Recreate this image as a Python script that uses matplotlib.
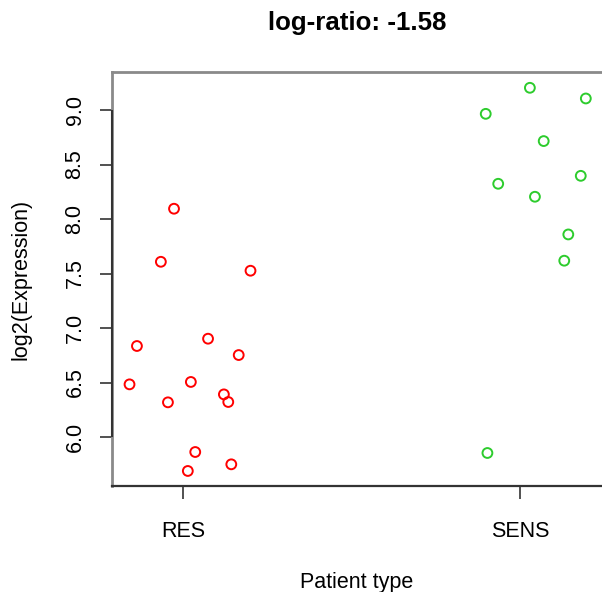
import numpy as np
import matplotlib.pyplot as plt

plt.rcParams['font.family'] = ['Liberation Sans', 'DejaVu Sans']

# values (x = category position incl. jitter)
res_x = [0.973, 0.934, 1.200, 0.863, 1.074, 1.165, 0.841, 1.023, 0.955,
         1.121, 1.134, 1.036, 1.143, 1.014]
res_y = [8.095, 7.608, 7.526, 6.835, 6.902, 6.752, 6.483, 6.505, 6.318,
         6.391, 6.321, 5.862, 5.749, 5.688]
sens_x = [2.029, 2.195, 1.898, 2.070, 2.180, 1.935, 2.044, 2.143, 2.131, 1.903]
sens_y = [9.205, 9.107, 8.966, 8.716, 8.397, 8.324, 8.205, 7.859, 7.618, 5.853]
groups = ["RES", "SENS"]
yticks = [6.0, 6.5, 7.0, 7.5, 8.0, 8.5, 9.0]
log_ratio = -1.58

fig = plt.figure(figsize=(6.02, 5.92), dpi=100)
ax = fig.add_axes([112 / 602, 106 / 592, 490 / 602, 414 / 592])

ax.scatter(res_x, res_y, s=50, facecolors='none', edgecolors='#ff0000', linewidths=1.4)
ax.scatter(sens_x, sens_y, s=50, facecolors='none', edgecolors='#2dcc2d', linewidths=1.4)

ax.set_xlim(0.789, 2.243)
ax.set_ylim(5.55, 9.35)

ax.set_xticks([1, 2])
ax.set_xticklabels(groups)
ax.set_yticks(yticks)
ax.set_yticklabels([f"{v:.1f}" for v in yticks], rotation=90, va='center')
ax.tick_params(axis='both', length=9, width=1.2, color='#333333', labelsize=15.5, pad=10)
ax.tick_params(axis='x', pad=16)

for side in ['top', 'left']:
    ax.spines[side].set_color('#8a8a8a')
    ax.spines[side].set_linewidth(2)
ax.spines['bottom'].set_color('#333333')
ax.spines['bottom'].set_linewidth(1.6)
ax.spines['right'].set_visible(False)

# darker R-style axis line between first and last tick
x0 = ax.get_xlim()[0]
ax.vlines(x0, yticks[0], yticks[-1], color='#333333', lw=1.5, clip_on=False, zorder=3)

ax.set_title(f"log-ratio: {log_ratio}", fontsize=18.6, fontweight='bold', pad=30, x=0.5)
ax.set_xlabel("Patient type", fontsize=15.5, labelpad=22)
ax.set_ylabel("log2(Expression)", fontsize=15.5, labelpad=24)

fig.savefig("out.png", dpi=100)
